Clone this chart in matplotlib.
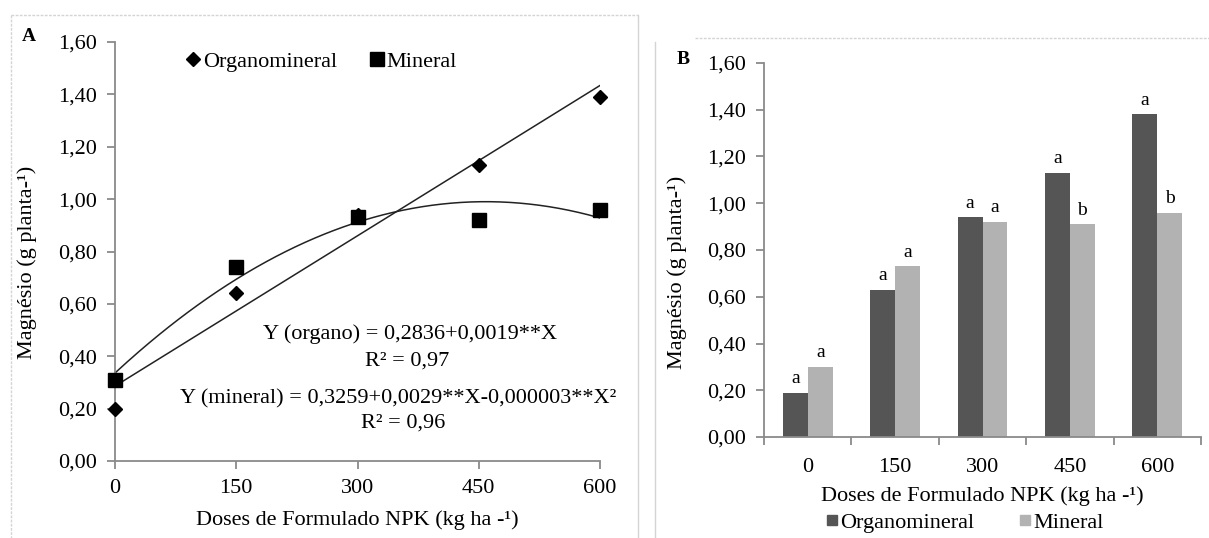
import numpy as np
import matplotlib
matplotlib.use("Agg")
import matplotlib.pyplot as plt
from matplotlib.ticker import FuncFormatter, FixedLocator
from matplotlib.lines import Line2D

plt.rcParams['font.family'] = ['Liberation Serif', 'DejaVu Serif']

# dados
doses = [0, 150, 300, 450, 600]
dose_labels = ['0', '150', '300', '450', '600']
organo_a = [0.20, 0.64, 0.94, 1.13, 1.39]
mineral_a = [0.31, 0.74, 0.93, 0.92, 0.96]
organo_b = [0.19, 0.63, 0.94, 1.13, 1.38]
mineral_b = [0.30, 0.73, 0.92, 0.91, 0.96]
letras_organo = ['a', 'a', 'a', 'a', 'a']
letras_mineral = ['a', 'a', 'a', 'b', 'b']
eq_organo = 'Y (organo) = 0,2836+0,0019**X'
r2_organo = 'R² = 0,97'
eq_mineral = 'Y (mineral) = 0,3259+0,0029**X-0,000003**X²'
r2_mineral = 'R² = 0,96'

W, H = 1209, 538
fig = plt.figure(figsize=(W / 100, H / 100), dpi=100)


def box(l, t, r, b):
    # pixel -> figure fraction
    return [l / W, 1 - b / H, (r - l) / W, (b - t) / H]


virgula = FuncFormatter(lambda v, p: ('%.2f' % v).replace('.', ','))
cinza = '#8a8a8a'
fs = 16

# ---------- painel A ----------
ax = fig.add_axes(box(115, 42, 600, 461))
xx = np.linspace(0, 600, 200)
c1 = np.polyfit(doses, organo_a, 1)
c2 = np.polyfit(doses, mineral_a, 2)
ax.plot(xx, np.polyval(c1, xx), color='#222222', lw=1.1, zorder=2)
ax.plot(xx, np.polyval(c2, xx), color='#222222', lw=1.1, zorder=2)
ax.plot(doses, organo_a, 'D', color='black', ms=7, ls='none', zorder=3,
        label='Organomineral', clip_on=False)
ax.plot(doses, mineral_a, 's', color='black', ms=10.5, ls='none', zorder=3,
        label='Mineral', clip_on=False)
ax.set_xlim(0, 600)
ax.set_ylim(0, 1.6)
ax.set_xticks(doses)
ax.set_xticklabels(dose_labels)
ax.set_yticks(np.arange(0, 1.61, 0.2))
ax.yaxis.set_major_formatter(virgula)
for s in ['top', 'right']:
    ax.spines[s].set_visible(False)
for s in ['left', 'bottom']:
    ax.spines[s].set_color(cinza)
    ax.spines[s].set_linewidth(1.3)
ax.tick_params(direction='out', length=6, color=cinza, width=1.3,
               labelsize=fs, pad=7)
ax.legend(ncol=2, loc='center left', bbox_to_anchor=(186 / W, 1 - 62 / H),
          bbox_transform=fig.transFigure, frameon=False, fontsize=fs,
          handlelength=0.6, handletextpad=0.15, columnspacing=1.5,
          borderpad=0, borderaxespad=0)

fig.text(410 / W, 1 - 334 / H, eq_organo, ha='center', va='center', fontsize=fs)
fig.text(407 / W, 1 - 361 / H, r2_organo, ha='center', va='center', fontsize=fs)
fig.text(398 / W, 1 - 399 / H, eq_mineral, ha='center', va='center', fontsize=fs)
fig.text(403 / W, 1 - 423 / H, r2_mineral, ha='center', va='center', fontsize=fs)
fig.text(357 / W, 1 - 520 / H, 'Doses de Formulado NPK (kg ha -¹)',
         ha='center', va='center', fontsize=fs)
fig.text(27 / W, 1 - 262 / H, 'Magnésio (g planta-¹)', rotation=90,
         ha='center', va='center', fontsize=fs)
fig.text(29 / W, 1 - 37 / H, 'A', ha='center', va='center', fontsize=14,
         fontweight='bold')

# ---------- painel B ----------
bx = fig.add_axes(box(764, 63, 1201, 437))
pos = np.arange(len(doses))
w = 0.286
cor_org = '#555555'
cor_min = '#b2b2b2'
b1 = bx.bar(pos - w / 2, organo_b, w, color=cor_org, label='Organomineral')
b2 = bx.bar(pos + w / 2, mineral_b, w, color=cor_min, label='Mineral')
for rects, letras in [(b1, letras_organo), (b2, letras_mineral)]:
    for r, l in zip(rects, letras):
        bx.annotate(l, (r.get_x() + r.get_width() / 2, r.get_height()),
                    xytext=(0, 4), textcoords='offset points',
                    ha='center', va='bottom', fontsize=14)
bx.set_xlim(-0.5, len(doses) - 0.5)
bx.set_ylim(0, 1.6)
bx.xaxis.set_major_locator(FixedLocator(np.arange(-0.5, len(doses), 1.0)))
bx.xaxis.set_minor_locator(FixedLocator(pos))
bx.set_xticklabels([], minor=False)
bx.set_xticklabels(dose_labels, minor=True)
bx.set_yticks(np.arange(0, 1.61, 0.2))
bx.yaxis.set_major_formatter(virgula)
for s in ['top', 'right']:
    bx.spines[s].set_visible(False)
for s in ['left', 'bottom']:
    bx.spines[s].set_color(cinza)
    bx.spines[s].set_linewidth(1.3)
bx.tick_params(which='major', direction='out', length=6, color=cinza,
               width=1.3, labelsize=fs, pad=7)
bx.tick_params(axis='x', which='minor', length=0, labelsize=fs, pad=15)

fig.text(982 / W, 1 - 496 / H, 'Doses de Formulado NPK (kg ha -¹)',
         ha='center', va='center', fontsize=fs)
fig.text(677 / W, 1 - 272 / H, 'Magnésio (g planta-¹)', rotation=90,
         ha='center', va='center', fontsize=fs)
fig.text(683 / W, 1 - 60 / H, 'B', ha='center', va='center', fontsize=14,
         fontweight='bold')
handles = [Line2D([], [], marker='s', color=cor_org, ls='none', ms=7),
           Line2D([], [], marker='s', color=cor_min, ls='none', ms=7)]
fig.legend(handles, ['Organomineral', 'Mineral'], ncol=2, loc='center left',
           bbox_to_anchor=(826 / W, 1 - 523 / H), frameon=False, fontsize=fs,
           handlelength=0.5, handletextpad=0.15, columnspacing=2.0,
           borderpad=0, borderaxespad=0)

# molduras
borda = '#d4d4d4'
fig.add_artist(Line2D([11 / W, 11 / W], [1 - 15 / H, 0], color=borda, lw=1,
                      ls=(0, (2, 1))))
fig.add_artist(Line2D([11 / W, 638 / W], [1 - 15 / H, 1 - 15 / H], color=borda,
                      lw=1, ls=(0, (2, 1))))
fig.add_artist(Line2D([638 / W, 638 / W], [1 - 15 / H, 0], color=borda, lw=1))
fig.add_artist(Line2D([655 / W, 655 / W], [1 - 42 / H, 0], color=borda, lw=1))
fig.add_artist(Line2D([695 / W, 1], [1 - 38 / H, 1 - 38 / H], color=borda,
                      lw=1, ls=(0, (2, 1))))

fig.savefig('out.png', dpi=100)
